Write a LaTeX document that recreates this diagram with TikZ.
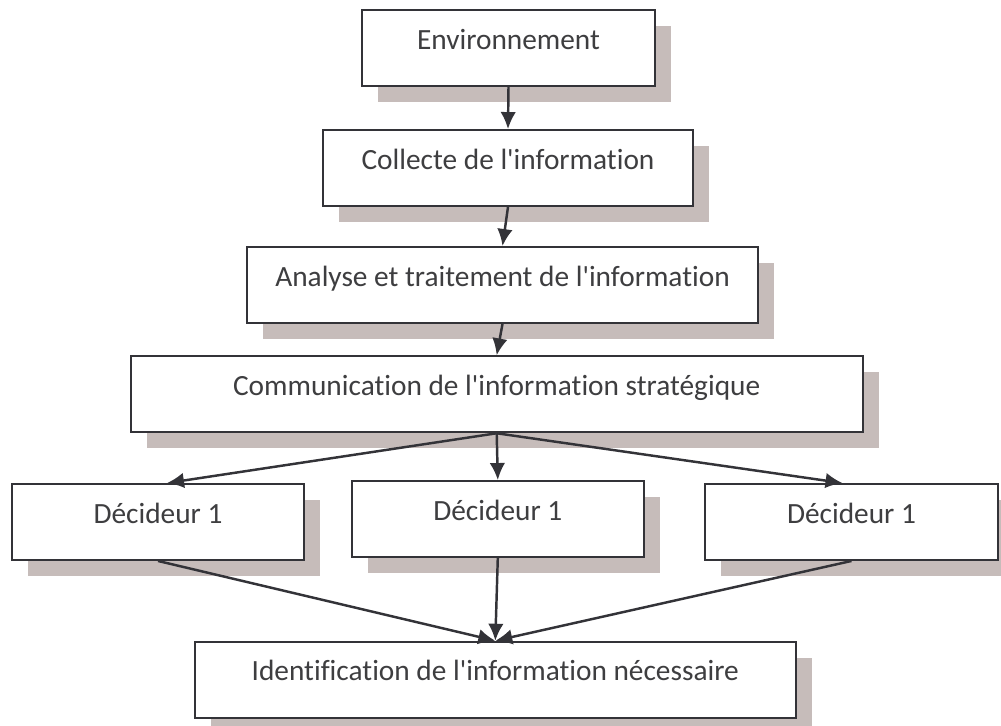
\documentclass[tikz,border=0pt]{standalone}
\usepackage{fontspec}
\newfontfamily\boxfont{Carlito}[Ligatures=NoCommon]
\usetikzlibrary{arrows.meta,positioning,shadows}
\definecolor{linegray}{RGB}{51,51,56}
\definecolor{shadowgray}{RGB}{198,188,186}
\definecolor{textgray}{RGB}{62,62,64}

\begin{document}
\begin{tikzpicture}[>={Latex[length=3.4mm,width=3.1mm]}, x=0.02cm, y=-0.02cm]
	\tikzstyle{box}=[rectangle,draw=linegray,line width=1.1pt,fill=white,text=textgray,
		font=\boxfont\fontsize{16.7}{20}\selectfont,inner sep=0pt,
		text height=0.37cm,text depth=0.32cm,minimum height=1.52cm,
		drop shadow={shadow xshift=0.32cm,shadow yshift=-0.32cm,fill=shadowgray,opacity=1}]
	\tikzstyle{link}=[->,color=linegray,line width=1.4pt]
	\useasboundingbox (0,0) rectangle (1001,726);

	\node[box,minimum width=5.86cm]  (env)   at (508.5,48)  {Environnement};
	\node[box,minimum width=7.4cm]   (coll)  at (508,168)   {Collecte de l'information};
	\node[box,minimum width=10.22cm] (anal)  at (502.5,285) {Analyse et traitement de l'information};
	\node[box,minimum width=14.64cm] (comm)  at (496.7,394.3) {Communication de l'information stratégique};
	\node[box,minimum width=5.85cm]  (dec1)  at (158,522)   {Décideur 1};
	\node[box,minimum width=5.85cm]  (dec2)  at (497.8,519) {Décideur 1};
	\node[box,minimum width=5.85cm]  (dec3)  at (851.5,522) {Décideur 1};
	\node[box,minimum width=12.03cm] (ident) at (495.3,679.7) {Identification de l'information nécessaire};

	\path[link] % flow between the steps
	(env.south)  edge (coll.north)
	(coll.south) edge (anal.north)
	(anal.south) edge (comm.north)
	(comm.south) edge ([xshift=0.18cm]dec1.north)
	(comm.south) edge (dec2.north)
	(comm.south) edge ([xshift=-0.18cm]dec3.north)
	(dec1.south) edge (ident.north)
	(dec2.south) edge (ident.north)
	(dec3.south) edge (ident.north);
\end{tikzpicture}
\end{document}
